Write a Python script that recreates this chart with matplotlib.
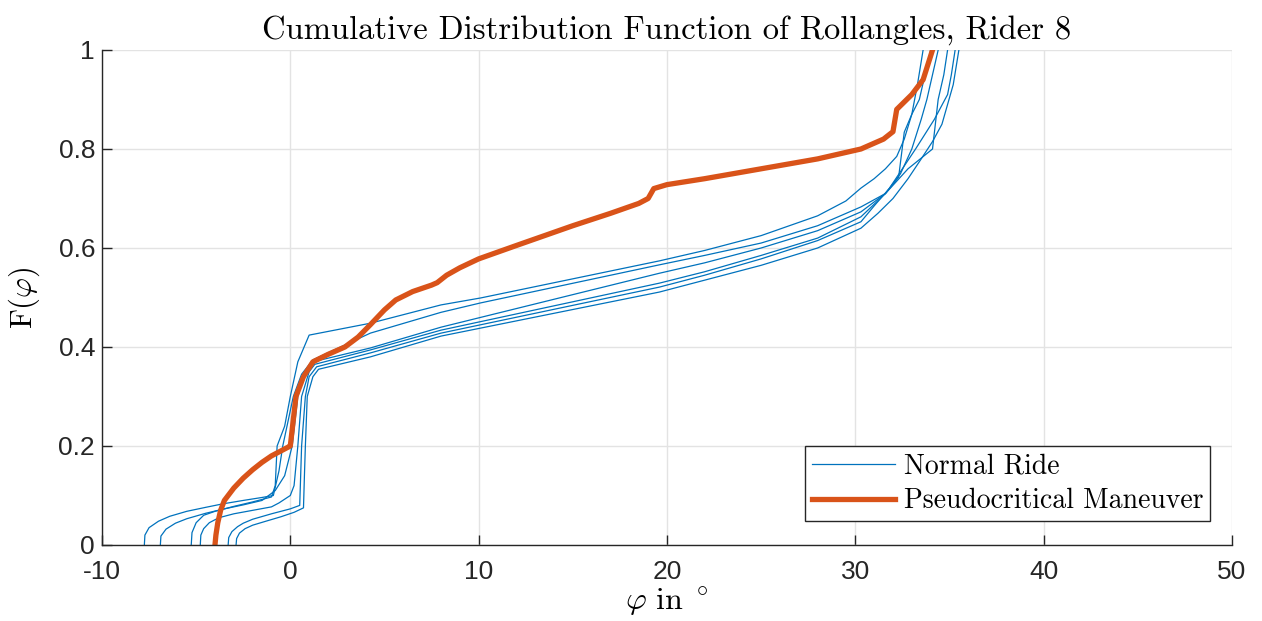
import matplotlib
matplotlib.use("Agg")
import matplotlib.pyplot as plt
import numpy as np

plt.rcParams['mathtext.fontset'] = 'cm'
plt.rcParams['axes.unicode_minus'] = False

# roll angle (deg) / cumulative probability, normal rides
normal_x = [
    [-5.26, -5.22, -5.0, -4.6, -4.0, -3.0, -2.0, -1.0, -0.8, -0.7, -0.5, -0.3, 0.0, 0.4, 1.0,
     4.25, 8.0, 10.1, 19.6, 22.0, 25.0, 28.0, 29.5, 30.3, 31.0, 31.6, 32.2, 32.6, 33.0, 33.3, 33.6],
    [-7.75, -7.72, -7.5, -7.0, -6.4, -5.5, -4.5, -3.6, -2.5, -1.5, -0.9, -0.6, -0.4, 0.16, 0.6, 1.2,
     4.25, 8.0, 10.1, 19.6, 22.0, 25.0, 28.0, 30.3, 31.6, 32.3, 32.6, 33.0, 33.4, 34.0],
    [-6.9, -6.87, -6.6, -6.1, -5.5, -4.5, -3.5, -2.5, -1.5, -0.8, -0.3, 0.1, 0.4, 0.8, 1.2,
     4.25, 8.0, 19.6, 22.0, 25.0, 28.0, 30.3, 31.6, 32.4, 33.0, 33.5, 33.8, 34.1, 34.4],
    [-4.78, -4.75, -4.6, -4.3, -3.8, -3.0, -2.0, -1.0, -0.6, 0.0, 0.2, 0.4, 0.6, 1.0, 1.3,
     4.25, 8.0, 19.6, 22.0, 25.0, 28.0, 30.3, 31.6, 32.2, 32.8, 34.1, 34.4, 34.7, 34.9],
    [-3.3, -3.27, -3.1, -2.8, -2.5, -2.0, -1.0, 0.0, 0.5, 0.55, 0.6, 0.8, 1.0, 1.4,
     4.25, 8.0, 19.6, 22.0, 25.0, 28.0, 30.3, 31.0, 31.8, 32.5, 33.2, 34.2, 34.9, 35.1, 35.3],
    [-2.88, -2.85, -2.7, -2.4, -2.0, -1.3, -0.5, 0.2, 0.7, 0.75, 0.8, 0.9, 1.2, 1.5,
     4.25, 8.0, 19.6, 22.0, 25.0, 28.0, 30.3, 31.2, 32.0, 32.8, 33.5, 34.1, 34.6, 35.2, 35.5],
]
normal_F = [
    [0, 0.025, 0.045, 0.06, 0.068, 0.078, 0.087, 0.097, 0.12, 0.20, 0.22, 0.24, 0.30, 0.37, 0.424,
     0.448, 0.485, 0.499, 0.574, 0.595, 0.625, 0.665, 0.695, 0.721, 0.74, 0.76, 0.785, 0.82, 0.87, 0.93, 1.0],
    [0, 0.02, 0.035, 0.048, 0.058, 0.068, 0.076, 0.083, 0.09, 0.096, 0.10, 0.15, 0.20, 0.30, 0.345, 0.374,
     0.428, 0.47, 0.489, 0.566, 0.585, 0.61, 0.645, 0.683, 0.71, 0.743, 0.834, 0.87, 0.90, 1.0],
    [0, 0.018, 0.032, 0.044, 0.053, 0.064, 0.073, 0.081, 0.09, 0.11, 0.14, 0.20, 0.30, 0.35, 0.37,
     0.398, 0.44, 0.549, 0.57, 0.60, 0.635, 0.673, 0.71, 0.75, 0.80, 0.86, 0.90, 0.95, 1.0],
    [0, 0.02, 0.033, 0.045, 0.055, 0.063, 0.07, 0.077, 0.085, 0.10, 0.12, 0.20, 0.30, 0.35, 0.365,
     0.394, 0.434, 0.529, 0.552, 0.585, 0.62, 0.663, 0.71, 0.735, 0.76, 0.80, 0.90, 0.95, 1.0],
    [0, 0.015, 0.027, 0.037, 0.044, 0.052, 0.063, 0.073, 0.08, 0.14, 0.20, 0.30, 0.34, 0.36,
     0.388, 0.428, 0.521, 0.545, 0.578, 0.615, 0.653, 0.685, 0.72, 0.76, 0.80, 0.86, 0.91, 0.95, 1.0],
    [0, 0.013, 0.024, 0.033, 0.04, 0.048, 0.057, 0.066, 0.075, 0.14, 0.20, 0.30, 0.34, 0.355,
     0.38, 0.422, 0.511, 0.535, 0.565, 0.60, 0.640, 0.67, 0.70, 0.74, 0.78, 0.815, 0.85, 0.93, 1.0],
]

# pseudocritical maneuver
man_x = [-4.0, -3.95, -3.85, -3.7, -3.5, -3.0, -2.5, -2.0, -1.5, -1.0, -0.5, -0.1, 0.0, 0.3, 0.7, 1.2,
         2.0, 2.9, 3.6, 4.25, 5.0, 5.6, 6.5, 7.5, 7.8, 8.3, 9.0, 10.0, 12.0, 15.0, 17.0, 18.5, 19.0, 19.3,
         20.0, 22.0, 25.0, 28.0, 30.3, 31.5, 32.0, 32.2, 33.0, 33.6, 34.1]
man_F = [0.0, 0.02, 0.045, 0.07, 0.09, 0.115, 0.135, 0.152, 0.167, 0.18, 0.19, 0.198, 0.20, 0.30, 0.34, 0.37,
         0.385, 0.40, 0.42, 0.445, 0.475, 0.495, 0.512, 0.525, 0.53, 0.545, 0.56, 0.578, 0.605, 0.645, 0.67, 0.69, 0.70, 0.72,
         0.728, 0.74, 0.76, 0.78, 0.80, 0.82, 0.835, 0.88, 0.91, 0.94, 1.0]

blue = '#0072BD'
orange = '#D95319'

fig = plt.figure(figsize=(12.62, 6.21), dpi=100)
ax = fig.add_axes([0.0808, 0.1224, 0.8954, 0.7971])

for i, (xs, fs) in enumerate(zip(normal_x, normal_F)):
    ax.plot(xs, fs, color=blue, lw=0.9, label='Normal Ride' if i == 0 else None)
ax.plot(man_x, man_F, color=orange, lw=3.8, label='Pseudocritical Maneuver',
        solid_joinstyle='round')

ax.set_xlim(-10, 50)
ax.set_ylim(0, 1)
ax.set_xticks(np.arange(-10, 51, 10))
ax.set_yticks([0, 0.2, 0.4, 0.6, 0.8, 1])
ax.set_yticklabels(['0', '0.2', '0.4', '0.6', '0.8', '1'])
ax.grid(True, color='#e3e3e3', lw=1)
ax.set_axisbelow(True)
for s in ['top', 'right']:
    ax.spines[s].set_visible(False)
for s in ['left', 'bottom']:
    ax.spines[s].set_color('#262626')
    ax.spines[s].set_linewidth(1.0)
ax.tick_params(direction='in', length=7, width=1, color='#262626',
               labelsize=19, labelcolor='#262626')
ax.tick_params(axis='x', pad=11)
ax.tick_params(axis='y', pad=5)
for lab in ax.get_xticklabels() + ax.get_yticklabels():
    lab.set_family('Liberation Sans')

ax.set_title('Cumulative Distribution Function of Rollangles, Rider 8',
             family='cmr10', fontsize=23.5, pad=8)
ax.set_xlabel(r'$\varphi\ \mathrm{in}\ ^\circ$', fontsize=23, labelpad=1)
ax.set_ylabel(r'$\mathrm{F}(\varphi)$', fontsize=22, labelpad=12)

leg = ax.legend(loc='lower right', bbox_to_anchor=(0.993, 0.02),
                prop={'family': 'cmr10', 'size': 20}, fancybox=False,
                framealpha=1, edgecolor='#262626', handlelength=3.0,
                borderpad=0.25, labelspacing=0.3, handletextpad=0.3)
leg.get_frame().set_linewidth(1.0)

plt.savefig('out.png', dpi=100)
